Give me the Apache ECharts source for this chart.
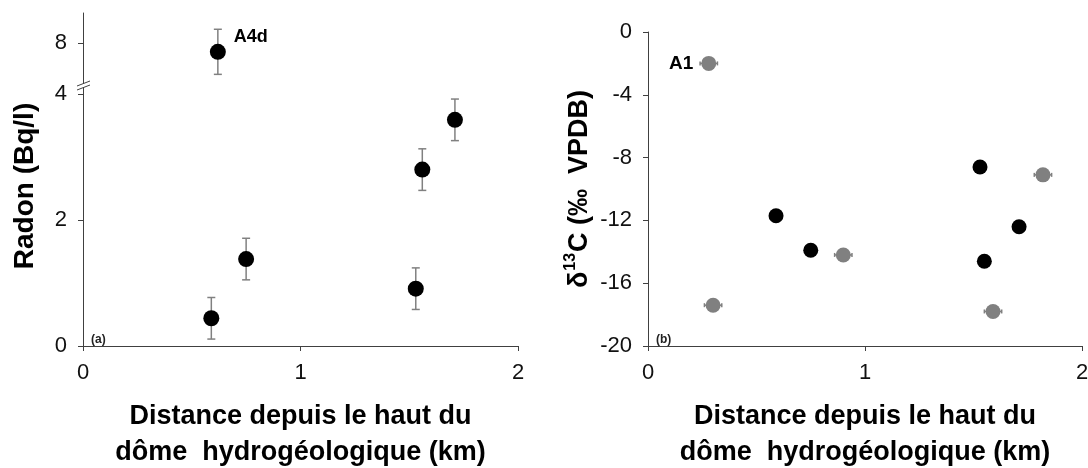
<!DOCTYPE html>
<html>
	<head>
		<meta charset="UTF-8">
		<title></title>
		<style>
			html, body { margin: 0; padding: 0; background: #fff; }
		</style>
	</head>
	<body>
		<div id="echart" style="width: 1088px;height: 468px;overflow: hidden;"></div>
		<script src="https://cdn.jsdelivr.net/npm/echarts@6/dist/echarts.min.js" type="text/javascript" charset="utf-8"></script>
		<script type="text/javascript">
// (a) radon
var radonDist = [0.59, 0.75, 1.53, 1.56, 1.71];
var radonVal = [0.44, 1.38, 0.91, 2.80, 3.59];
var radonErr = [0.33, 0.33, 0.33, 0.33, 0.33];
// point above the axis break
var a4dDist = [0.62];
var a4dVal = [7.86];
var a4dErr = [0.36];
var radonTicks = [0, 2, 4];
var radonTicksHigh = [8];

// (b) delta 13C
var dicBlackDist = [0.59, 0.75, 1.53, 1.71, 1.55];
var dicBlackVal = [-11.7, -13.9, -8.6, -12.4, -14.6];
var dicGreyDist = [0.28, 0.30, 0.90, 1.82, 1.59];
var dicGreyVal = [-2.0, -17.4, -14.2, -9.1, -17.8];
var dicGreyErr = [0.04, 0.04, 0.04, 0.04, 0.04];

var font = 'Liberation Sans, Arial, sans-serif';
var axisCol = '#404040';
var errCol = '#808080';

function zip(a, b, c) {
	var out = [];
	for (var i = 0; i < a.length; i++) {
		out.push(c ? [a[i], b[i], c[i]] : [a[i], b[i]]);
	}
	return out;
}

// vertical error bars with caps
function vErr(params, api) {
	var x = api.value(0), y = api.value(1), e = api.value(2);
	var t = api.coord([x, y + e]), b = api.coord([x, y - e]);
	var c = 4, st = { stroke: errCol, lineWidth: 1.5 };
	return { type: 'group', children: [
		{ type: 'line', shape: { x1: t[0], y1: t[1], x2: b[0], y2: b[1] }, style: st },
		{ type: 'line', shape: { x1: t[0] - c, y1: t[1], x2: t[0] + c, y2: t[1] }, style: st },
		{ type: 'line', shape: { x1: b[0] - c, y1: b[1], x2: b[0] + c, y2: b[1] }, style: st }
	] };
}
// horizontal error bars
function hErr(params, api) {
	var x = api.value(0), y = api.value(1), e = api.value(2);
	var l = api.coord([x - e, y]), r = api.coord([x + e, y]);
	var c = 2, st = { stroke: errCol, lineWidth: 1.5 };
	return { type: 'group', children: [
		{ type: 'line', shape: { x1: l[0], y1: l[1], x2: r[0], y2: r[1] }, style: st },
		{ type: 'line', shape: { x1: l[0], y1: l[1] - c, x2: l[0], y2: l[1] + c }, style: st },
		{ type: 'line', shape: { x1: r[0], y1: r[1] - c, x2: r[0], y2: r[1] + c }, style: st }
	] };
}

var xName = 'Distance depuis le haut du\ndôme  hydrogéologique (km)';
function xAxisOpt(gridIndex, show) {
	return {
		gridIndex: gridIndex, type: 'value', min: 0, max: 2, interval: 1,
		show: show,
		name: show ? xName : '', nameLocation: 'middle', nameGap: 53,
		nameTextStyle: { fontFamily: font, fontSize: 27, fontWeight: 'bold', color: '#000', lineHeight: 36 },
		axisLine: { onZero: false, lineStyle: { color: axisCol, width: 1 } },
		axisTick: { show: true, length: 5, lineStyle: { color: axisCol } },
		axisLabel: { margin: 16, fontFamily: font, fontSize: 22, color: '#111' },
		splitLine: { show: false }
	};
}
var yLabel = { margin: 16, fontFamily: font, fontSize: 22, color: '#111' };
var radonName = {
	type: 'text', x: 25, y: 186, rotation: Math.PI / 2,
	style: { text: 'Radon (Bq/l)', fontFamily: font, fontSize: 28, fontWeight: 'bold', fill: '#000', align: 'center', verticalAlign: 'middle' }
};

var myChart = echarts.init(document.getElementById('echart'));
myChart.setOption({
	animation: false,
	title: [
		{ text: '(a)', left: 86, top: 329, textStyle: { fontFamily: font, fontSize: 12, fontWeight: 'bold', color: '#222' } },
		{ text: '(b)', left: 651, top: 329, textStyle: { fontFamily: font, fontSize: 12, fontWeight: 'bold', color: '#222' } }
	],
	grid: [
		{ left: 83, top: 13, width: 435, height: 72, outerBoundsMode: 'none' },
		{ left: 83, top: 85, width: 435, height: 261, outerBoundsMode: 'none' },
		{ left: 648, top: 32, width: 434, height: 314, outerBoundsMode: 'none' }
	],
	xAxis: [xAxisOpt(0, false), xAxisOpt(1, true), xAxisOpt(2, true)],
	yAxis: [
		{
			gridIndex: 0, type: 'value', min: 7.33, max: 8.48,
			axisLine: { show: true, lineStyle: { color: axisCol } },
			axisTick: { show: true, length: 5, customValues: radonTicksHigh, lineStyle: { color: axisCol } },
			axisLabel: Object.assign({ customValues: radonTicksHigh }, yLabel),
			splitLine: { show: false }
		},
		{
			gridIndex: 1, type: 'value', min: 0, max: 4.143,
			axisLine: { show: true, lineStyle: { color: axisCol } },
			axisTick: { show: true, length: 5, customValues: radonTicks, lineStyle: { color: axisCol } },
			axisLabel: Object.assign({ customValues: radonTicks }, yLabel),
			splitLine: { show: false }
		},
		{
			gridIndex: 2, type: 'value', min: -20, max: 0, interval: 4,
			name: '{a|δ}{s|13}{a|C (‰  VPDB)}', nameLocation: 'middle', nameGap: 55,
			nameTextStyle: {
				fontFamily: font, fontWeight: 'bold', color: '#000',
				rich: {
					a: { fontFamily: font, fontSize: 27, fontWeight: 'bold', color: '#000', lineHeight: 30, verticalAlign: 'bottom' },
					s: { fontFamily: font, fontSize: 16, fontWeight: 'bold', color: '#000', lineHeight: 30, verticalAlign: 'top', padding: [0, 1, 0, 1] }
				}
			},
			axisLine: { show: true, lineStyle: { color: axisCol } },
			axisTick: { show: true, length: 5, lineStyle: { color: axisCol } },
			axisLabel: yLabel,
			splitLine: { show: false }
		}
	],
	graphic: [radonName],
	series: [
		{ type: 'custom', xAxisIndex: 0, yAxisIndex: 0, renderItem: vErr, data: zip(a4dDist, a4dVal, a4dErr), z: 1, silent: true },
		{
			type: 'scatter', xAxisIndex: 0, yAxisIndex: 0, symbolSize: 16, itemStyle: { color: '#000', opacity: 1 },
			data: zip(a4dDist, a4dVal), z: 3,
			label: { show: true, formatter: 'A4d', position: 'right', distance: 8, offset: [0, -15], fontFamily: font, fontSize: 18, fontWeight: 'bold', color: '#000' }
		},
		{ type: 'custom', xAxisIndex: 1, yAxisIndex: 1, renderItem: vErr, data: zip(radonDist, radonVal, radonErr), z: 1, silent: true },
		{ type: 'scatter', xAxisIndex: 1, yAxisIndex: 1, symbolSize: 16, itemStyle: { color: '#000', opacity: 1 }, data: zip(radonDist, radonVal), z: 3 },
		{ type: 'custom', xAxisIndex: 2, yAxisIndex: 2, renderItem: hErr, data: zip(dicGreyDist, dicGreyVal, dicGreyErr), z: 1, silent: true },
		{
			type: 'scatter', xAxisIndex: 2, yAxisIndex: 2, symbolSize: 15, itemStyle: { color: '#808080', opacity: 1 },
			data: zip(dicGreyDist, dicGreyVal), z: 3,
			label: {
				show: true, position: 'left', distance: 8, fontFamily: font, fontSize: 19, fontWeight: 'bold', color: '#000',
				formatter: function (p) { return p.dataIndex === 0 ? 'A1' : ''; }
			}
		},
		{ type: 'scatter', xAxisIndex: 2, yAxisIndex: 2, symbolSize: 15, itemStyle: { color: '#000', opacity: 1 }, data: zip(dicBlackDist, dicBlackVal), z: 3 }
	]
});

// axis break mark at the top of the lower Radon axis
var bp = myChart.convertToPixel({ gridIndex: 1 }, [0, 4.143]);
myChart.setOption({
	graphic: [
		radonName,
		{ type: 'rect', shape: { x: bp[0] - 2, y: bp[1] - 2, width: 4, height: 5 }, style: { fill: '#fff' }, z: 10 },
		{ type: 'line', shape: { x1: bp[0] - 6, y1: bp[1] + 1, x2: bp[0] + 7, y2: bp[1] - 4 }, style: { stroke: axisCol, lineWidth: 1 }, z: 11 },
		{ type: 'line', shape: { x1: bp[0] - 6, y1: bp[1] + 5, x2: bp[0] + 7, y2: bp[1] }, style: { stroke: axisCol, lineWidth: 1 }, z: 11 }
	]
});
		</script>
	</body>
</html>
